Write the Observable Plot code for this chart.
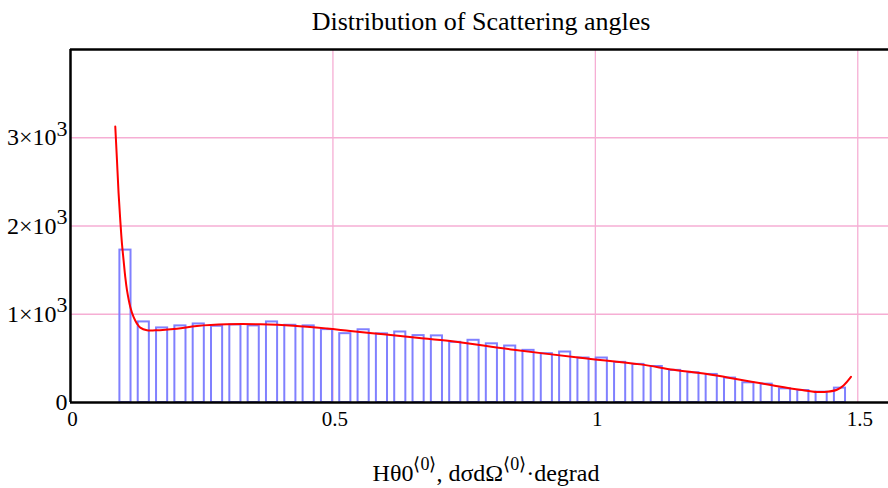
<!DOCTYPE html>
<html>
<head>
<meta charset="utf-8">
<script src="https://cdn.jsdelivr.net/npm/d3@7"></script>
<script src="https://cdn.jsdelivr.net/npm/@observablehq/plot@0.6"></script>
<style>
  html, body { margin: 0; padding: 0; background: #fff; }
  #chart svg { display: block; }
</style>
</head>
<body>
<div id="chart"></div>
<script>
// ---- data ----
const degrad = Math.PI / 180;
// histogram bin centres (degrees) and counts
const binAngleDeg = [6, 8, 10, 12, 14, 16, 18, 20, 22, 24, 26, 28, 30, 32, 34, 36, 38, 40, 42, 44,
                     46, 48, 50, 52, 54, 56, 58, 60, 62, 64, 66, 68, 70, 72, 74, 76, 78, 80, 82, 84];
const binCount = [1727, 913, 845, 868, 890, 864, 879, 868, 913, 875, 868, 826, 780, 824, 778, 799, 758, 755, 682, 705,
                  665, 640, 591, 553, 572, 504, 504, 455, 432, 408, 364, 337, 318, 277, 223, 208, 155, 136, 117, 163];
const binHalfWidthDeg = 1;
// fitted cross-section curve (radians, value)
const fitAngle = [0.0853, 0.0885, 0.0916, 0.0948, 0.0980, 0.1011, 0.1043, 0.1076, 0.1139, 0.1201, 0.1266, 0.1329,
                  0.1457, 0.1615, 0.2028, 0.2409, 0.2981, 0.3616, 0.4250, 0.4886, 0.5330, 0.5965, 0.6601, 0.7236,
                  0.8442, 0.9712, 1.0856, 1.1490, 1.2126, 1.2761, 1.3395, 1.3904, 1.4222, 1.4413, 1.4603, 1.4729, 1.4870];
const fitValue = [3128, 2750, 2372, 2068, 1803, 1614, 1424, 1273, 1083, 969, 894, 849,
                  818, 818, 837, 867, 886, 886, 871, 839, 811, 773, 735, 697,
                  598, 507, 432, 371, 322, 258, 193, 144, 119, 121, 144, 193, 290];
// axes
const xTicks = [0, 0.5, 1, 1.5];
const xTickLabels = ["0", "0.5", "1", "1.5"];
const xGrid = [0.5, 1, 1.5];
const yTicks = [0, 1000, 2000, 3000];
const yTickMantissa = ["0", "1", "2", "3"];
const yTickExponent = "3";
const yGrid = [1000, 2000, 3000];
const titleText = "Distribution of Scattering angles";

// ---- tables ----
const bins = binAngleDeg.map((a, i) => ({
  x1: (a - binHalfWidthDeg) * degrad,
  x2: (a + binHalfWidthDeg) * degrad,
  y: binCount[i]
}));
const fit = fitAngle.map((a, i) => ({x: a, y: fitValue[i]}));

const FONT = "'Liberation Serif', 'Times New Roman', serif";
const W = 888, H = 488;
const mL = 70, mT = 49, mB = 86, mR = 0;
const xMax = (W - mL - mR) / 524.85;

const plot = Plot.plot({
  width: W,
  height: H,
  marginLeft: mL,
  marginRight: mR,
  marginTop: mT,
  marginBottom: mB,
  style: {fontFamily: FONT, fontSize: "20px", background: "#fff", color: "#000"},
  x: {domain: [0, xMax], axis: null},
  y: {domain: [0, 4000], axis: null},
  marks: [
    Plot.gridX(xGrid, {stroke: "#f6aed4", strokeOpacity: 1, strokeWidth: 1.3}),
    Plot.gridY(yGrid, {stroke: "#f6aed4", strokeOpacity: 1, strokeWidth: 1.3}),
    Plot.rectY(bins, {x1: "x1", x2: "x2", y: "y", fill: "none", stroke: "#8080ff", strokeWidth: 2,
                      insetLeft: 3.6, insetRight: 3.6}),
    Plot.line(fit, {x: "x", y: "y", stroke: "#ff0000", strokeWidth: 2, curve: "catmull-rom"}),
    Plot.ruleY([0], {stroke: "#000", strokeWidth: 2.5}),
    Plot.ruleY([4000], {stroke: "#000", strokeWidth: 2.5}),
    Plot.ruleX([0], {stroke: "#000", strokeWidth: 2.5}),
    Plot.axisX(xTicks, {tickSize: 0, tickPadding: 9, fontSize: 21, label: null,
                        tickFormat: (d) => xTickLabels[xTicks.indexOf(d)], dx: 2}),
    Plot.axisY(yTicks, {tickSize: 0, tickPadding: 3, fontSize: 24, label: null,
                        tickFormat: (d) => { const i = yTicks.indexOf(d); return d === 0 ? yTickMantissa[i] : yTickMantissa[i] + "×10"; }})
  ]
});

document.getElementById("chart").appendChild(plot);
const svg = d3.select(plot);

// superscript exponent on y tick labels (10^3)
svg.selectAll('g[aria-label="y-axis tick label"] text').each(function () {
  const t = d3.select(this);
  const txt = this.textContent;
  if (txt.endsWith("×10")) {
    const mant = txt.slice(0, -3);
    t.text(null);
    t.append("tspan").text(mant + "×10");
    t.append("tspan").attr("dy", "-0.45em").attr("font-size", 22).text(yTickExponent);
  }
});

// serif everywhere
svg.selectAll("text").attr("font-family", FONT).attr("fill", "#000");

// title
svg.append("text")
  .attr("x", 481).attr("y", 30)
  .attr("text-anchor", "middle")
  .attr("font-family", FONT)
  .attr("font-size", 26)
  .attr("fill", "#000")
  .text(titleText);

// x axis label with superscripts
const xl = svg.append("text")
  .attr("x", 486).attr("y", 481)
  .attr("text-anchor", "middle")
  .attr("font-family", FONT)
  .attr("font-size", 24)
  .attr("fill", "#000");
xl.append("tspan").text("Hθ0");
xl.append("tspan").attr("dy", "-0.6em").attr("font-size", 18).text("⟨0⟩");
xl.append("tspan").attr("dy", "0.45em").text(", dσdΩ");
xl.append("tspan").attr("dy", "-0.6em").attr("font-size", 18).text("⟨0⟩");
xl.append("tspan").attr("dy", "0.45em").text("·degrad");
</script>
</body>
</html>
